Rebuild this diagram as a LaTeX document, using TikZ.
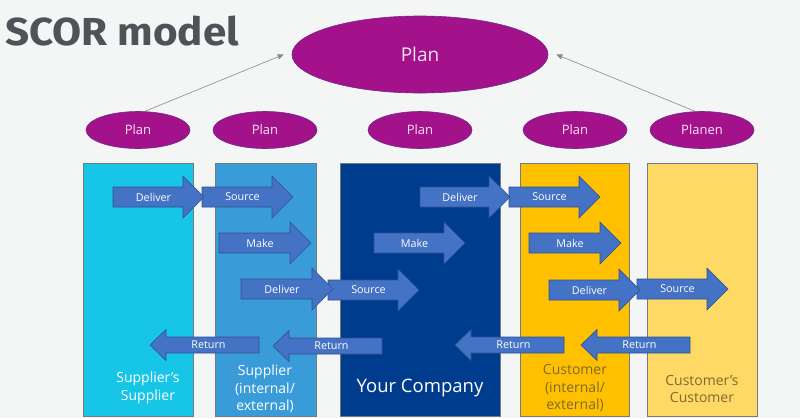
\documentclass[tikz,border=0pt]{standalone}
\usepackage{fontspec}
\setmainfont{Open Sans}
\newfontfamily\titlefont{Fira Sans}
\usetikzlibrary{arrows.meta,shapes.geometric}
\definecolor{bg}{HTML}{F4F5F5}
\definecolor{cA}{HTML}{17C6E6}
\definecolor{cB}{HTML}{3A9BD9}
\definecolor{cC}{HTML}{003C8E}
\definecolor{cD}{HTML}{FFC000}
\definecolor{cE}{HTML}{FFD966}
\definecolor{colborder}{HTML}{6E7C88}
\definecolor{arrfill}{HTML}{4472C4}
\definecolor{arrline}{HTML}{2F528F}
\definecolor{purp}{HTML}{A3118B}
\definecolor{purpline}{HTML}{6B2A8C}
\definecolor{purptext}{HTML}{F6E4F3}
\definecolor{gold}{HTML}{7F6A30}
\definecolor{titlegray}{HTML}{4D5357}
\definecolor{conngray}{HTML}{8A8A8A}
\tikzset{
  colbox/.style={draw=colborder, line width=0.6pt},
  arrowbox/.style={fill=arrfill, draw=arrline, line width=0.6pt},
  arrowtext/.style={text=white, font=\fontsize{10.8}{12}\selectfont, inner sep=0pt},
  planell/.style={ellipse, fill=purp, draw=purpline, line width=0.6pt, text=purptext, inner sep=0pt},
  conn/.style={draw=conngray, line width=0.6pt, -{Triangle[length=6pt,width=5pt]}},
  collabel/.style={align=center, inner sep=0pt, font=\fontsize{14}{17.5}\selectfont}
}
% right-pointing block arrow: name, x1, x2, y, text
\newcommand{\rarr}[5]{%
  \filldraw[arrowbox] (#2,#4-10) -- (#3-21,#4-10) -- (#3-21,#4-21) -- (#3,#4) -- (#3-21,#4+21) -- (#3-21,#4+10) -- (#2,#4+10) -- cycle;
  \node[arrowtext] (#1) at ({(#2+#3)/2-5},#4) {#5};}
% left-pointing block arrow: name, tip, tail, y, text
\newcommand{\larr}[5]{%
  \filldraw[arrowbox] (#3,#4-8) -- (#2+16,#4-8) -- (#2+16,#4-15.5) -- (#2,#4) -- (#2+16,#4+15.5) -- (#2+16,#4+8) -- (#3,#4+8) -- cycle;
  \node[arrowtext] (#1) at ({(#2+#3)/2+4},#4) {#5};}
\begin{document}
\begin{tikzpicture}[x=1pt,y=-1pt]
\fill[bg] (0,0) rectangle (800,418);
\useasboundingbox (0,0) rectangle (800,418);
% title
\node[anchor=base west, inner sep=0pt, text=titlegray] (title) at (5,45)
  {\scalebox{1.08}[1]{\titlefont\bfseries\fontsize{39}{39}\selectfont SCOR model}};
% columns
\filldraw[colbox, fill=cA] (83,163) rectangle (193,416);
\filldraw[colbox, fill=cB] (215,163) rectangle (316,416);
\filldraw[colbox, fill=cC] (340,163) rectangle (500,416);
\filldraw[colbox, fill=cD] (520,163) rectangle (629,416);
\filldraw[colbox, fill=cE] (647,163) rectangle (757,416);
% plan ellipses
\node[planell, minimum width=256pt, minimum height=77pt, font=\fontsize{19}{22}\selectfont] (top) at (420,54.5) {Plan};
\foreach \nm/\xx/\tt in {p1/138/Plan, p2/265/Plan, p3/420/Plan, p4/575/Plan, p5/702/Planen}
  \node[planell, minimum width=104pt, minimum height=37pt, font=\fontsize{13}{15}\selectfont] (\nm) at (\xx,130) {\tt};
\draw[conn] (p1.70) -- ([xshift=-8pt]top.west);
\draw[conn] (p5.110) -- ([xshift=8pt]top.east);
% forward arrows
\rarr{s1}{202}{293}{197}{Source}
\rarr{d1}{113}{204}{197}{Deliver}
\rarr{m2}{219}{311}{243}{Make}
\rarr{s3}{328}{419}{290}{Source}
\rarr{d2}{241}{333}{289}{Deliver}
\rarr{m3}{374}{465}{243}{Make}
\rarr{s4}{509}{600}{197}{Source}
\rarr{d3}{420}{510}{197}{Deliver}
\rarr{m4}{529}{621}{243}{Make}
\rarr{s5}{637}{728}{289}{Source}
\rarr{d4}{549}{640}{290}{Deliver}
% return arrows
\larr{r1}{150}{259}{345}{Return}
\larr{r2}{273}{382}{346}{Return}
\larr{r3}{455}{564}{345}{Return}
\larr{r4}{581}{690}{345}{Return}
% column labels
\node[collabel, text=white] (lA) at (148,388) {Supplier’s\\Supplier};
\node[collabel, text=white] (lB) at (265,389) {Supplier\\(internal/\\external)};
\node[inner sep=0pt, text=white, font=\fontsize{18.5}{22}\selectfont] (lC) at (420,388) {Your Company};
\node[collabel, text=gold] (lD) at (575,388.5) {Customer\\(internal/\\external)};
\node[collabel, text=gold] (lE) at (702,389) {Customer’s\\Customer};
\end{tikzpicture}
\end{document}
